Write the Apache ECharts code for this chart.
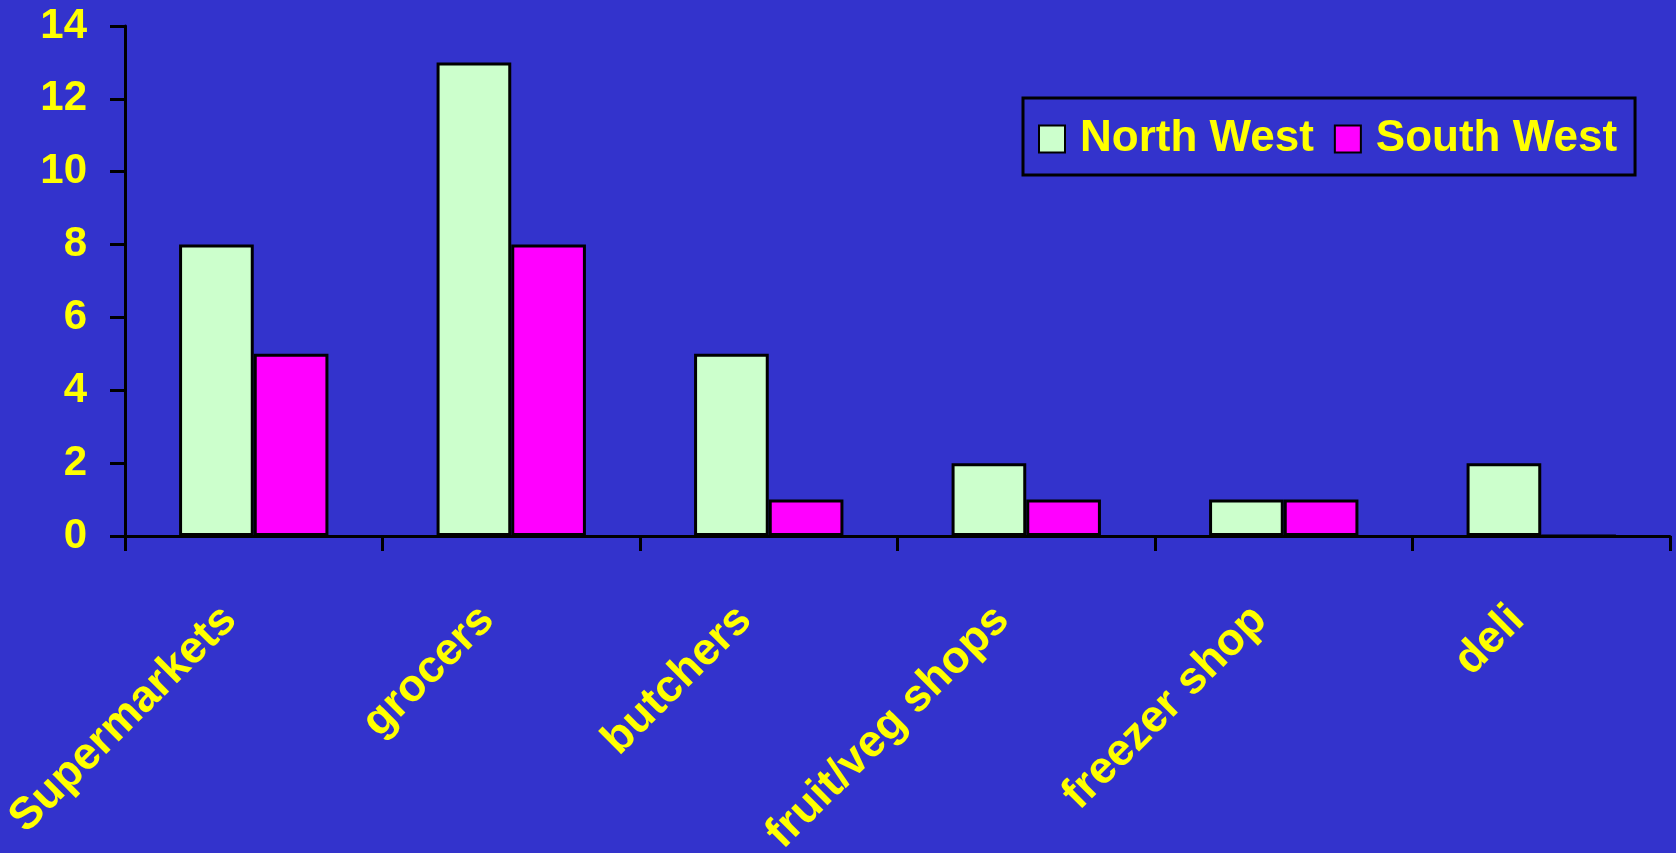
<!DOCTYPE html>
<html>
<head>
<meta charset="utf-8">
<script src="https://cdn.jsdelivr.net/npm/echarts@6/dist/echarts.min.js"></script>
<style>
html,body{margin:0;padding:0;background:#3333CC;}
#c{width:1676px;height:853px;}
</style>
</head>
<body>
<div id="c"></div>
<script>
const categories = ['Supermarkets', 'grocers', 'butchers', 'fruit/veg shops', 'freezer shop', 'deli'];
const northWest = [8, 13, 5, 2, 1, 2];
const southWest = [5, 8, 1, 1, 1, 0];
const seriesNames = ['North West', 'South West'];

const FONT = '"Liberation Sans", Arial, sans-serif';
const chart = echarts.init(document.getElementById('c'));
chart.setOption({
  backgroundColor: '#3333CC',
  animation: false,
  grid: { left: 125, top: 26, right: 6, bottom: 317, containLabel: false, outerBoundsMode: 'none' },
  legend: {
    left: 1023, top: 98,
    padding: [19, 18, 14, 15],
    borderColor: '#000', borderWidth: 3,
    icon: 'rect',
    itemWidth: 26, itemHeight: 27, itemGap: 20,
    textStyle: { color: '#FFFF00', fontSize: 44, fontWeight: 'bold', fontFamily: FONT, padding: [0, 0, 0, 10] },
    data: seriesNames
  },
  xAxis: {
    type: 'category',
    data: categories,
    axisLine: { lineStyle: { color: '#000', width: 3 } },
    axisTick: { show: true, length: 15, lineStyle: { color: '#000', width: 3 } },
    axisLabel: { rotate: 45, margin: 53, padding: [0, 34, 0, 0], color: '#FFFF00', fontSize: 45, fontWeight: 'bold', fontFamily: FONT, interval: 0 }
  },
  yAxis: {
    type: 'value', min: 0, max: 14, interval: 2,
    splitLine: { show: false },
    axisLine: { show: true, lineStyle: { color: '#000', width: 3 } },
    axisTick: { show: true, length: 15, lineStyle: { color: '#000', width: 3 } },
    axisLabel: { margin: 38, color: '#FFFF00', fontSize: 42, fontWeight: 'bold', fontFamily: FONT }
  },
  series: [
    { name: seriesNames[0], type: 'bar', data: northWest, barGap: '0%', barCategoryGap: '42%',
      itemStyle: { color: '#CCFFCC', borderColor: '#000', borderWidth: 3 } },
    { name: seriesNames[1], type: 'bar', data: southWest,
      itemStyle: { color: '#FF00FF', borderColor: '#000', borderWidth: 3 } }
  ]
});
</script>
</body>
</html>
